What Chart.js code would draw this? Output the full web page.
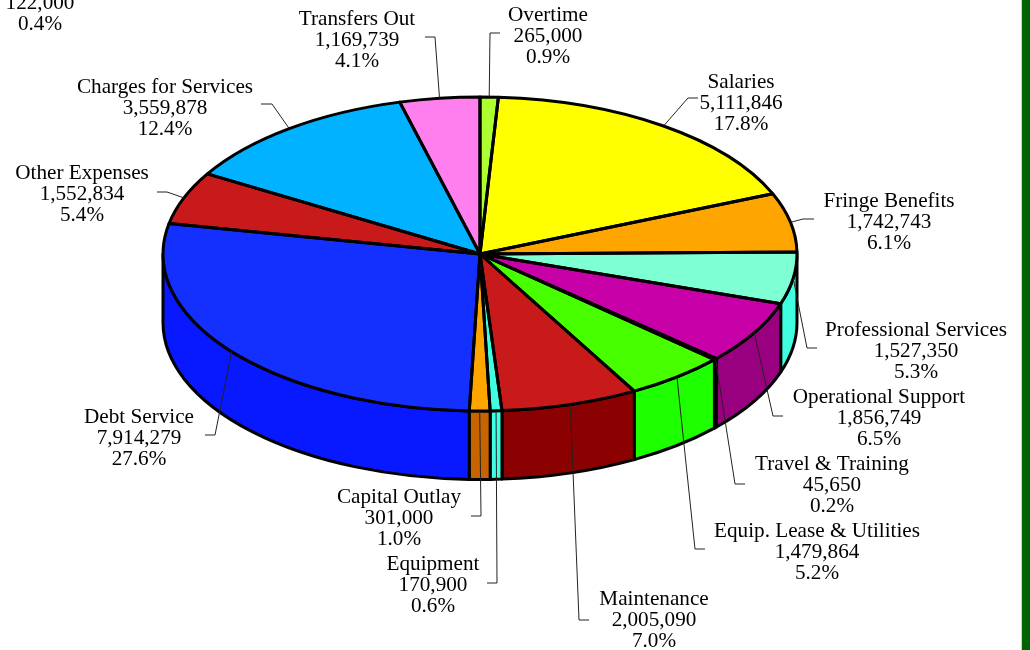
<!DOCTYPE html>
<html>
<head>
<meta charset="utf-8">
<style>
html,body{margin:0;padding:0;background:#fff;overflow:hidden}
#wrap{position:relative;width:1030px;height:650px}
#strip{position:absolute;left:1021px;top:0;width:9px;height:650px;background:#006400;border-left:1px solid #c8d8c8;box-sizing:border-box}
canvas{position:absolute;left:0;top:0}
</style>
<script src="https://cdn.jsdelivr.net/npm/chart.js@4"></script>
</head>
<body>
<div id="wrap"><canvas id="c" width="1030" height="650"></canvas><div id="strip"></div></div>
<script>
const categories = ["Overtime","Salaries","Fringe Benefits","Professional Services","Operational Support","Travel & Training","Equip. Lease & Utilities","Maintenance","Equipment","Capital Outlay","Debt Service","Other Expenses","Charges for Services","Transfers Out"];
const amounts = [265000,5111846,1742743,1527350,1856749,45650,1479864,2005090,170900,301000,7914279,1552834,3559878,1169739];
const amountText = ["265,000","5,111,846","1,742,743","1,527,350","1,856,749","45,650","1,479,864","2,005,090","170,900","301,000","7,914,279","1,552,834","3,559,878","1,169,739"];
const percentText = ["0.9%","17.8%","6.1%","5.3%","6.5%","0.2%","5.2%","7.0%","0.6%","1.0%","27.6%","5.4%","12.4%","4.1%"];
const topColors = ["#ADFF2F","#FFFF00","#FFA500","#7FFFD4","#C800A8","#000000","#48FF00","#C81A1A","#40FFE0","#FFA500","#1430FF","#C81A1A","#00B2FF","#FF7FEF"];
const sideColors = ["#ADFF2F","#FFFF00","#C86400","#40FFE0","#990080","#000000","#1EFF00","#8B0000","#40FFE0","#C86400","#0818FF","#8B0000","#00B2FF","#FF7FEF"];
// The label at the top-left corner belongs to an entry whose name is cropped off the picture
const croppedLabelLines = ["122,000","0.4%"];

// Layout only: label centre [x, first line y] and leader line elbow/end for each entry
const labelPos = [[548,15],[741,82],[889,201],[916,330],[879,397],[832,464],[817,531],[654,599],[433,564],[399,497],[139,417],[82,173],[165,87],[357,19]];
const elbows = [[[490,33],[500,33]],[[688,98],[698,98]],[[803,219],[814,219]],[[807,348],[817,348]],[[773,416],[783,416]],[[735,484],[745,484]],[[695,549],[705,549]],[[579,620],[589,620]],[[497,583],[487,583]],[[481,516],[471,516]],[[215,435],[205,435]],[[167,192],[157,192]],[[272,104],[261,104]],[[435,37],[425,37]]];
const CY = 254, RY = 157, DEPTH = 68.5, LINE = 3, LINE_H = 21;

const pie3d = {
  id: 'pie3d',
  beforeDatasetsDraw(chart) {
    const ctx = chart.ctx, arcs = chart.getDatasetMeta(0).data;
    const cx = arcs[0].x, R = arcs[0].outerRadius;
    // walls of the front half
    arcs.forEach((arc, i) => {
      const a1 = Math.max(arc.startAngle, 0), a2 = Math.min(arc.endAngle, Math.PI);
      if (a2 <= a1) return;
      ctx.save();
      ctx.beginPath();
      ctx.ellipse(cx, CY, R, RY, 0, a1, a2);
      ctx.ellipse(cx, CY + DEPTH, R, RY, 0, a2, a1, true);
      ctx.closePath();
      ctx.fillStyle = sideColors[i];
      ctx.fill();
      ctx.lineWidth = LINE; ctx.strokeStyle = '#000'; ctx.lineJoin = 'round';
      ctx.stroke();
      ctx.restore();
    });
    // squash the library's own arcs into the top face
    ctx.save();
    ctx.translate(0, CY);
    ctx.scale(1, RY / R);
    ctx.translate(0, -arcs[0].y);
  },
  afterDatasetsDraw(chart) {
    const ctx = chart.ctx, arcs = chart.getDatasetMeta(0).data;
    ctx.restore();
    const cx = arcs[0].x, R = arcs[0].outerRadius;
    ctx.save();
    ctx.lineWidth = LINE; ctx.strokeStyle = '#000'; ctx.lineJoin = 'round';
    arcs.forEach(arc => {
      ctx.beginPath();
      ctx.moveTo(cx, CY);
      ctx.ellipse(cx, CY, R, RY, 0, arc.startAngle, arc.endAngle);
      ctx.closePath();
      ctx.stroke();
    });
    // leader lines
    ctx.lineWidth = 1; ctx.strokeStyle = '#222';
    arcs.forEach((arc, i) => {
      const m = (arc.startAngle + arc.endAngle) / 2;
      ctx.beginPath();
      ctx.moveTo(cx + R * Math.cos(m), CY + RY * Math.sin(m));
      elbows[i].forEach(p => ctx.lineTo(p[0], p[1]));
      ctx.stroke();
    });
    // labels
    ctx.fillStyle = '#000';
    ctx.font = '21.2px "Liberation Serif"';
    ctx.textAlign = 'center';
    ctx.textBaseline = 'middle';
    categories.forEach((name, i) => {
      const [x, y] = labelPos[i];
      ctx.fillText(name, x, y);
      ctx.fillText(amountText[i], x, y + LINE_H);
      ctx.fillText(percentText[i], x, y + 2 * LINE_H);
    });
    ctx.fillText(croppedLabelLines[0], 40, 3);
    ctx.fillText(croppedLabelLines[1], 40, 24);
    ctx.restore();
  }
};

new Chart(document.getElementById('c'), {
  type: 'pie',
  data: {
    labels: categories,
    datasets: [{ data: amounts, backgroundColor: topColors, borderWidth: 0, hoverBorderWidth: 0, hoverOffset: 0, clip: false }]
  },
  options: {
    responsive: false,
    animation: false,
    layout: { padding: { left: 163, right: 233, top: 8, bottom: 8 } },
    plugins: { legend: { display: false }, tooltip: { enabled: false } },
    events: []
  },
  plugins: [pie3d]
});
</script>
</body>
</html>
